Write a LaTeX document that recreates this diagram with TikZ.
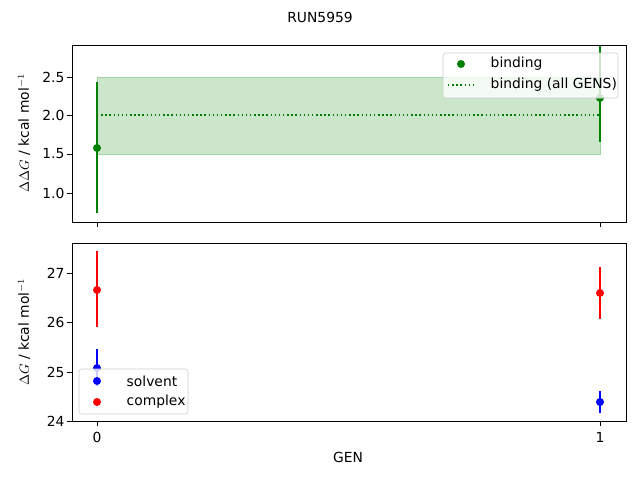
\documentclass[tikz,border=0pt]{standalone}
\usepackage{fontspec}
\setmainfont{DejaVu Sans}
\begin{document}
\begin{tikzpicture}[x=0.75pt,y=-0.75pt,font=\fontsize{10.4}{12}\selectfont,
  ax/.style={line width=0.6pt},
  eb/.style={line width=1.1pt},
  tk/.style={line width=0.6pt},
  lbl/.style={inner sep=1pt}]
\useasboundingbox (0,0) rectangle (640,480);
\definecolor{mgreen}{HTML}{008000}
\definecolor{lgreen}{HTML}{CCE6CC}
\node at (320,17) {RUN5959};
% ---- top axes
\fill[lgreen] (97,77) rectangle (600,154);
\draw[lgreen!80!mgreen,line width=0.5pt] (97,77) rectangle (600,154);
\draw[mgreen,dotted,line width=1.1pt] (97,115) -- (600,115);
\begin{scope}
\clip (72,45) rectangle (626,222);
\draw[mgreen,eb] (97,82) -- (97,213);
\draw[mgreen,eb] (600,30) -- (600,142);
\end{scope}
\fill[mgreen] (97,148) circle (4);
\fill[mgreen] (600,98) circle (4);
\draw[ax] (72,45) rectangle (626,222);
\foreach \y/\t in {77/2.5,115/2.0,154/1.5,193/1.0}{
  \draw[tk] (72,\y) -- (67,\y); \node[anchor=east,lbl] at (66,\y) {\t};}
\foreach \x in {97,600}{\draw[tk] (\x,222) -- (\x,227);}
\node[rotate=90] at (24,133) {$\Delta\Delta G$ / kcal mol$^{-1}$};
% legend top
\draw[fill=white,fill opacity=0.8,draw=black!20,rounded corners=2pt] (443,53) rectangle (618,98);
\fill[mgreen] (461,64) circle (4);
\node[anchor=west] at (486,64) {binding};
\draw[mgreen,dotted,line width=1.1pt] (448,85) -- (476,85);
\node[anchor=west] at (486,85) {binding (all GENS)};
% ---- bottom axes
\draw[red,eb] (97,251) -- (97,327);
\draw[red,eb] (600,267) -- (600,319);
\draw[blue,eb] (97,349) -- (97,386);
\draw[blue,eb] (600,391) -- (600,413);
\fill[red] (97,290) circle (4);
\fill[red] (600,293) circle (4);
\fill[blue] (97,368) circle (4);
\fill[blue] (600,402) circle (4);
\draw[ax] (72,243) rectangle (626,421);
\foreach \y/\t in {273/27,322/26,372/25,421/24}{
  \draw[tk] (72,\y) -- (67,\y); \node[anchor=east,lbl] at (66,\y) {\t};}
\foreach \x/\t in {97/0,600/1}{\draw[tk] (\x,421) -- (\x,426); \node at (\x,437) {\t};}
\node[rotate=90] at (24,332) {$\Delta G$ / kcal mol$^{-1}$};
\node at (348,457) {GEN};
% legend bottom
\draw[fill=white,fill opacity=0.8,draw=black!20,rounded corners=2pt] (79,369) rectangle (188,414);
\fill[blue] (97,381) circle (4);
\node[anchor=west] at (122,381) {solvent};
\fill[red] (97,402) circle (4);
\node[anchor=west] at (122,402) {complex};
\end{tikzpicture}
\end{document}
